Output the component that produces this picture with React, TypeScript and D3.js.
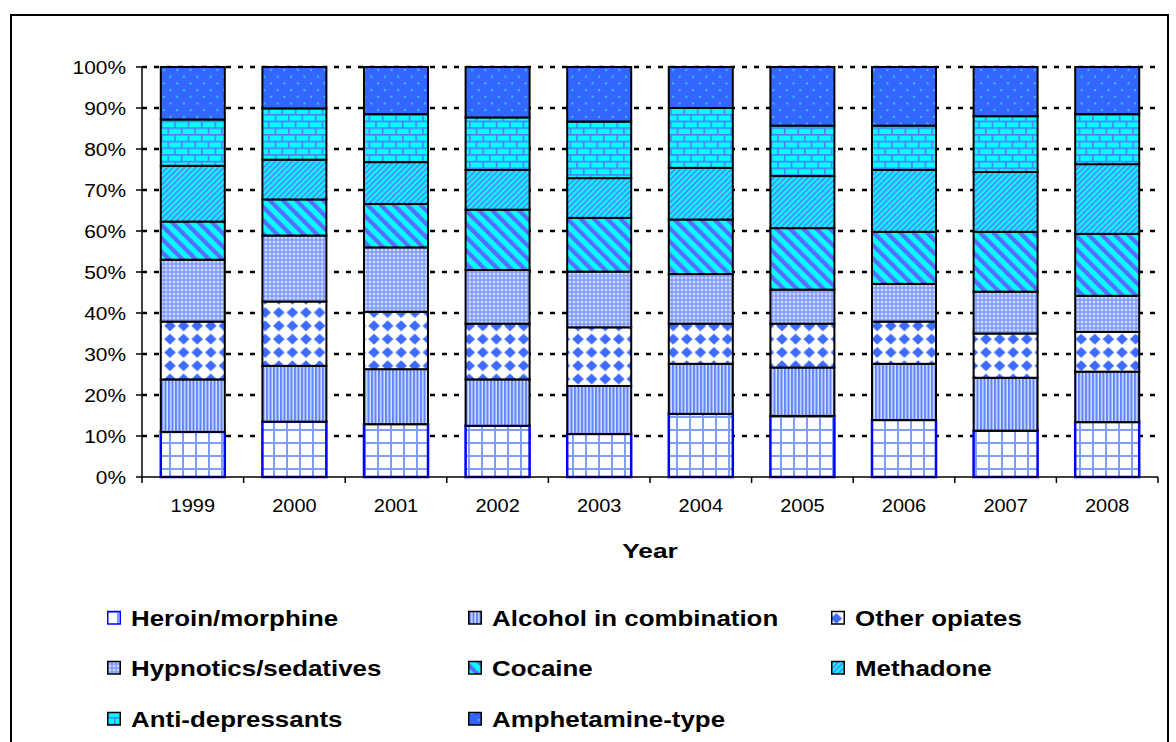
import React from 'react';
import * as d3 from 'd3';

const years = ['1999', '2000', '2001', '2002', '2003', '2004', '2005', '2006', '2007', '2008'];
const heroin = [11.0, 13.5, 12.9, 12.5, 10.5, 15.4, 14.9, 13.9, 11.3, 13.4];
const alcohol = [12.8, 13.6, 13.4, 11.3, 11.7, 12.2, 11.8, 13.7, 12.9, 12.3];
const otherOpiates = [14.1, 15.7, 14.0, 13.6, 14.3, 9.8, 10.7, 10.3, 10.8, 9.7];
const hypnotics = [15.1, 16.1, 15.7, 13.1, 13.6, 12.1, 8.3, 9.2, 10.2, 8.8];
const cocaine = [9.3, 8.8, 10.6, 14.7, 13.1, 13.3, 15.0, 12.7, 14.6, 15.1];
const methadone = [13.6, 9.7, 10.2, 9.7, 9.7, 12.6, 12.7, 15.1, 14.6, 17.0];
const antiDepressants = [11.3, 12.5, 11.7, 12.8, 13.8, 14.6, 12.3, 10.8, 13.6, 12.2];
const amphetamine = [12.8, 10.1, 11.5, 12.3, 13.3, 10.0, 14.3, 14.3, 12.0, 11.5];

const seriesNames = [
  'Heroin/morphine',
  'Alcohol in combination',
  'Other opiates',
  'Hypnotics/sedatives',
  'Cocaine',
  'Methadone',
  'Anti-depressants',
  'Amphetamine-type',
];
const seriesValues = [heroin, alcohol, otherOpiates, hypnotics, cocaine, methadone, antiDepressants, amphetamine];
const patternIds = ['pHeroin', 'pAlcohol', 'pOther', 'pHyp', 'pCoc', 'pMeth', 'pAnti', 'pAmph'];
const yTicks = [0, 10, 20, 30, 40, 50, 60, 70, 80, 90, 100];

const FONT = 'Liberation Sans, Arial, sans-serif';

const rows = years.map((y, i) => {
  const r: any = { year: y };
  seriesNames.forEach((s, k) => (r[s] = seriesValues[k][i]));
  return r;
});

export default function App() {
  const left = 142, right = 1158, top = 67, bottom = 477;
  const x = d3.scaleBand().domain(years).range([left, right]).paddingInner(0.37).paddingOuter(0.185);
  const y = d3.scaleLinear().domain([0, 100]).range([bottom, top]);
  const stack = d3.stack<any>().keys(seriesNames).offset(d3.stackOffsetExpand);
  const stacked = stack(rows);
  const step = x.step();

  const legendCols = [107, 468, 831];
  const legendRows = [626, 676, 727];

  return (
    <svg width={1176} height={742} style={{ position: 'absolute', left: 0, top: 0, display: 'block' }}>
      <defs>
        <pattern id="pHeroin" patternUnits="userSpaceOnUse" width={13} height={13} x={0} y={0}>
          <rect width={13} height={13} fill="#ffffff" />
          <rect x={0} y={0} width={2} height={13} fill="#7f9cff" />
          <rect x={0} y={0} width={13} height={2} fill="#7f9cff" />
        </pattern>
        <pattern id="pAlcohol" patternUnits="userSpaceOnUse" width={3.5} height={10}>
          <rect width={3.5} height={10} fill="#d4e0ff" />
          <rect x={0} width={2} height={10} fill="#5f82ff" />
        </pattern>
        <pattern id="pOther" patternUnits="userSpaceOnUse" width={13.6} height={13.3}>
          <rect width={13.6} height={13.3} fill="#ffffff" />
          <path d="M6.8,1.1L12.6,6.65L6.8,12.2L1.0,6.65Z" fill="#3d6bff" />
        </pattern>
        <pattern id="pHyp" patternUnits="userSpaceOnUse" width={4} height={4}>
          <rect width={4} height={4} fill="#7d99ff" />
          <rect x={1.5} y={0.5} width={1} height={3} fill="#e6ecff" />
          <rect x={0.5} y={1.5} width={3} height={1} fill="#e6ecff" />
        </pattern>
        <pattern id="pCoc" patternUnits="userSpaceOnUse" width={9.4} height={9.4} patternTransform="rotate(-45)">
          <rect width={9.4} height={9.4} fill="#00ffff" />
          <rect x={0} width={4.2} height={9.4} fill="#5a6cff" />
        </pattern>
        <pattern id="pMeth" patternUnits="userSpaceOnUse" width={4} height={4} patternTransform="rotate(45)">
          <rect width={4} height={4} fill="#00ffff" />
          <rect x={0} width={1.7} height={4} fill="#5a7fff" />
        </pattern>
        <pattern id="pAnti" patternUnits="userSpaceOnUse" width={13.4} height={13.4}>
          <rect width={13.4} height={13.4} fill="#00ffff" />
          <rect x={0} y={0} width={13.4} height={1.6} fill="#4f7dff" />
          <rect x={0} y={6.7} width={13.4} height={1.6} fill="#4f7dff" />
          <rect x={0} y={0} width={1.6} height={6.7} fill="#4f7dff" />
          <rect x={6.7} y={6.7} width={1.6} height={6.7} fill="#4f7dff" />
        </pattern>
        <pattern id="pAmph" patternUnits="userSpaceOnUse" width={13.4} height={13.4}>
          <rect width={13.4} height={13.4} fill="#3366ff" />
          <circle cx={3} cy={3} r={1.1} fill="#33ccff" />
          <circle cx={9.7} cy={9.7} r={1.1} fill="#33ccff" />
        </pattern>
      </defs>

      <rect x={11} y={15} width={1157} height={760} fill="#ffffff" stroke="#000" strokeWidth={2} />

      {/* gridlines */}
      {yTicks.filter((t) => t > 0).map((t) => (
        <line key={t} x1={left} x2={right} y1={y(t)} y2={y(t)} stroke="#000" strokeWidth={2.5} strokeDasharray="5 7" />
      ))}

      {/* bars */}
      {stacked.map((layer, k) => (
        <g key={layer.key} fill={`url(#${patternIds[k]})`} stroke={k === 0 ? '#0000ff' : '#000'} strokeWidth={k === 0 ? 2.5 : 2}>
          {layer.map((d, i) => (
            <rect
              key={i}
              x={x(years[i])}
              y={y(d[1] * 100)}
              width={x.bandwidth()}
              height={y(d[0] * 100) - y(d[1] * 100)}
            />
          ))}
        </g>
      ))}

      {/* y axis */}
      <line x1={left} x2={left} y1={top} y2={bottom} stroke="#000" strokeWidth={1.5} />
      {yTicks.map((t) => (
        <g key={t}>
          <line x1={left - 6} x2={left} y1={y(t)} y2={y(t)} stroke="#000" strokeWidth={1.5} />
          <text transform={`translate(126,${y(t) + 6.5}) scale(1.1,1)`} textAnchor="end" fontFamily={FONT} fontSize={19} fill="#000">
            {t}%
          </text>
        </g>
      ))}

      {/* x axis */}
      <line x1={left} x2={right} y1={bottom} y2={bottom} stroke="#000" strokeWidth={1.5} />
      {years.map((yr, i) => (
        <line key={'t' + yr} x1={left + step * (i + 1)} x2={left + step * (i + 1)} y1={bottom} y2={bottom + 6} stroke="#000" strokeWidth={1.5} />
      ))}
      <line x1={left} x2={left} y1={bottom} y2={bottom + 6} stroke="#000" strokeWidth={1.5} />
      {years.map((yr) => (
        <text key={yr} transform={`translate(${(x(yr) as number) + x.bandwidth() / 2},512) scale(1.05,1)`} textAnchor="middle" fontFamily={FONT} fontSize={19} fill="#000">
          {yr}
        </text>
      ))}
      <text transform={`translate(650,558) scale(1.25,1)`} textAnchor="middle" fontFamily={FONT} fontSize={21} fontWeight="bold" fill="#000">
        Year
      </text>

      {/* legend */}
      {seriesNames.map((s, k) => {
        const cx = legendCols[k % 3];
        const cy = legendRows[Math.floor(k / 3)];
        return (
          <g key={s}>
            <rect x={cx + 0.75} y={cy - 14.5} width={12.5} height={12.5} fill={`url(#${patternIds[k]})`} stroke={k === 0 ? '#0000ff' : '#000'} strokeWidth={1.5} />
            <text transform={`translate(${cx + 24},${cy}) scale(1.21,1)`} fontFamily={FONT} fontSize={21.4} fontWeight="bold" fill="#000">
              {s}
            </text>
          </g>
        );
      })}
    </svg>
  );
}
